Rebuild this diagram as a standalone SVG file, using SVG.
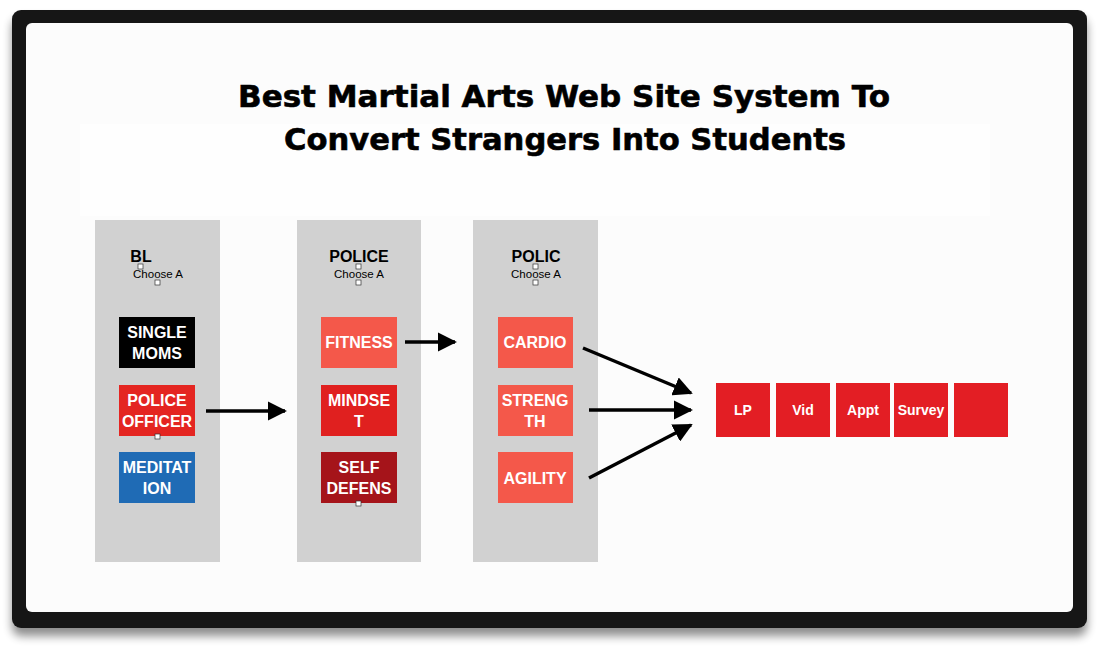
<svg xmlns="http://www.w3.org/2000/svg" width="1098" height="655" viewBox="0 0 1098 655">
<defs>
<filter id="sh" x="-5%" y="-5%" width="110%" height="115%"><feGaussianBlur in="SourceAlpha" stdDeviation="5"/><feOffset dx="0" dy="8"/><feComponentTransfer><feFuncA type="linear" slope="0.45"/></feComponentTransfer><feMerge><feMergeNode/><feMergeNode in="SourceGraphic"/></feMerge></filter>
<marker id="ah" viewBox="0 0 10 10" refX="9" refY="5" markerWidth="5.5" markerHeight="5.5" orient="auto" markerUnits="strokeWidth"><path d="M0,0 L10,5 L0,10 z" fill="#000"/></marker>
<style>
.col{fill:#d1d1d1}
.bt{font-family:"Liberation Sans",Arial,sans-serif;font-weight:bold;fill:#fff;font-size:16px;text-anchor:middle}
.hd{font-family:"Liberation Sans",Arial,sans-serif;font-weight:bold;fill:#000;font-size:16px;text-anchor:middle}
.ch{font-family:"Liberation Sans",Arial,sans-serif;fill:#000;font-size:11.5px;text-anchor:middle}
.ic{fill:#fff;stroke:#333;stroke-width:0.7}
.ar{stroke:#000;stroke-width:3.5;fill:none;marker-end:url(#ah)}
.rb{fill:#e31e24}
.rt{font-family:"Liberation Sans",Arial,sans-serif;font-weight:bold;fill:#fff;font-size:14px;text-anchor:middle}
</style>
</defs>
<rect x="0" y="0" width="1098" height="655" fill="#fff"/>
<g id="frame">
<rect x="12" y="10" width="1075" height="618" rx="9" fill="#151515" filter="url(#sh)"/>
<rect x="26" y="23" width="1047" height="589" rx="6" fill="#fcfcfc"/>
<rect x="80" y="124" width="910" height="92" fill="#fefefe"/>
</g>
<g id="title">
<text x="564" y="107" font-family="'DejaVu Sans','Liberation Sans',sans-serif" font-weight="bold" font-size="30" text-anchor="middle" fill="#000" stroke="#000" stroke-width="0.6" textLength="652" lengthAdjust="spacingAndGlyphs">Best Martial Arts Web Site System To</text>
<text x="565" y="150" font-family="'DejaVu Sans','Liberation Sans',sans-serif" font-weight="bold" font-size="30" text-anchor="middle" fill="#000" stroke="#000" stroke-width="0.6" textLength="562" lengthAdjust="spacingAndGlyphs">Convert Strangers Into Students</text>
</g>
<g id="col1">
<rect class="col" x="95" y="220" width="125" height="342"/>
<text class="hd" x="141" y="262">BL</text>
<text class="ch" x="158" y="278">Choose A</text>
<rect class="ic" x="138" y="264" width="5" height="5"/>
<rect class="ic" x="155" y="280" width="5" height="5"/>
</g>
<g id="col2">
<rect class="col" x="297" y="220" width="124" height="342"/>
<text class="hd" x="359" y="262">POLICE</text>
<text class="ch" x="359" y="278">Choose A</text>
<rect class="ic" x="356" y="264" width="5" height="5"/>
<rect class="ic" x="356" y="280" width="5" height="5"/>
</g>
<g id="col3">
<rect class="col" x="473" y="220" width="125" height="342"/>
<text class="hd" x="536" y="262">POLIC</text>
<text class="ch" x="536" y="278">Choose A</text>
<rect class="ic" x="533" y="264" width="5" height="5"/>
<rect class="ic" x="533" y="280" width="5" height="5"/>
</g>
<g id="single-moms"><rect x="119" y="317" width="76" height="51" fill="#000"/><text class="bt" x="157" y="338">SINGLE</text><text class="bt" x="157" y="359">MOMS</text></g>
<g id="police-officer"><rect x="119" y="385" width="76" height="51" fill="#e42521"/><text class="bt" x="157" y="406">POLICE</text><text class="bt" x="157" y="427">OFFICER</text><rect class="ic" x="155" y="434" width="5" height="5"/></g>
<g id="meditation"><rect x="119" y="452" width="76" height="51" fill="#1f6bb5"/><text class="bt" x="157" y="473">MEDITAT</text><text class="bt" x="157" y="494">ION</text></g>
<g id="fitness"><rect x="321" y="317" width="76" height="51" fill="#f4584a"/><text class="bt" x="359" y="348">FITNESS</text></g>
<g id="mindset"><rect x="321" y="385" width="76" height="51" fill="#e0201f"/><text class="bt" x="359" y="406">MINDSE</text><text class="bt" x="359" y="427">T</text></g>
<g id="self-defens"><rect x="321" y="452" width="76" height="51" fill="#a5141a"/><text class="bt" x="359" y="473">SELF</text><text class="bt" x="359" y="494">DEFENS</text><rect class="ic" x="356" y="501" width="5" height="5"/></g>
<g id="cardio"><rect x="498" y="317" width="75" height="51" fill="#f4584a"/><text class="bt" x="535" y="348">CARDIO</text></g>
<g id="strength"><rect x="498" y="385" width="75" height="51" fill="#f4584a"/><text class="bt" x="535" y="406">STRENG</text><text class="bt" x="535" y="427">TH</text></g>
<g id="agility"><rect x="498" y="452" width="75" height="51" fill="#f4584a"/><text class="bt" x="535" y="484">AGILITY</text></g>
<g id="lp"><rect class="rb" x="716" y="383" width="54" height="54"/><text class="rt" x="743" y="415">LP</text></g>
<g id="vid"><rect class="rb" x="776" y="383" width="54" height="54"/><text class="rt" x="803" y="415">Vid</text></g>
<g id="appt"><rect class="rb" x="836" y="383" width="54" height="54"/><text class="rt" x="863" y="415">Appt</text></g>
<g id="survey"><rect class="rb" x="894" y="383" width="54" height="54"/><text class="rt" x="921" y="415">Survey</text></g>
<g id="blank"><rect class="rb" x="954" y="383" width="54" height="54"/></g>
<g id="connectors">
<line class="ar" x1="206" y1="411" x2="285" y2="411"/>
<line class="ar" x1="405" y1="342" x2="455" y2="342"/>
<line class="ar" x1="583" y1="348" x2="691" y2="393"/>
<line class="ar" x1="589" y1="410" x2="691" y2="410"/>
<line class="ar" x1="589" y1="478" x2="691" y2="425"/>
</g>
</svg>
